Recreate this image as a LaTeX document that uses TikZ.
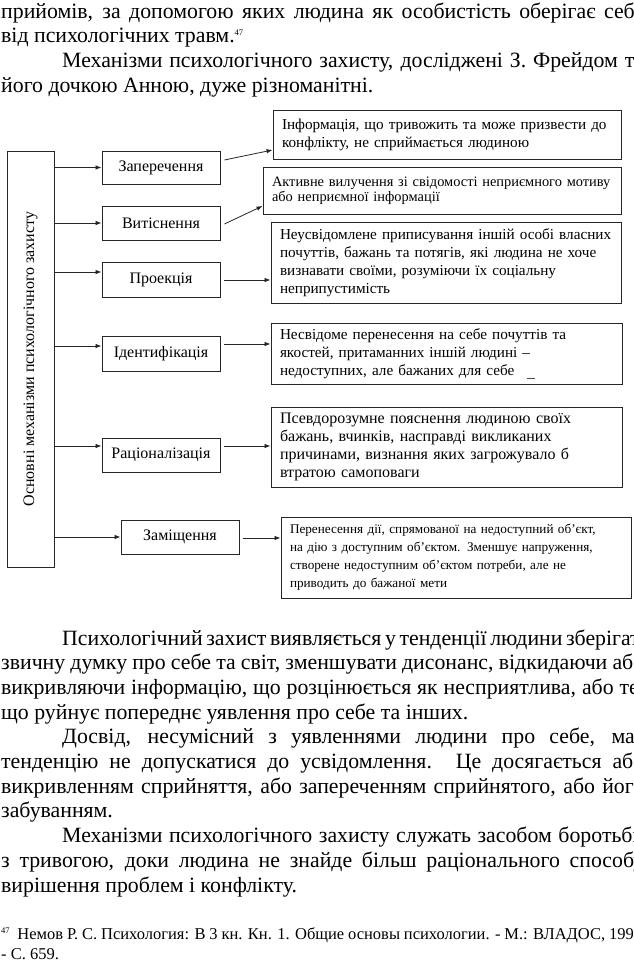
\documentclass[tikz,border=0pt]{standalone}
\usepackage{fontspec}
\setmainfont{Liberation Serif}
\usetikzlibrary{arrows.meta,calc}
\newcommand{\fnmark}[2]{\raisebox{#1}{\fontsize{8.5}{9}\selectfont #2}}
\begin{document}
\begin{tikzpicture}[x=1pt,y=-1pt,
  body/.style={anchor=base west, inner sep=0pt, font=\fontsize{21.8}{24.7}\selectfont},
  foot/.style={anchor=base west, inner sep=0pt, font=\fontsize{16.5}{19}\selectfont},
  frame/.style={draw=black!85, line width=0.9pt},
  mbox/.style={frame, minimum width=118pt, inner sep=0pt, font=\fontsize{16}{18}\selectfont},
  rbox/.style={frame, inner ysep=0pt, inner xsep=9pt, align=left, font=\fontsize{15.2}{18}\selectfont},
  arr/.style={draw=black!85, line width=0.8pt, -{Latex[length=6pt,width=4.5pt]}}]
\useasboundingbox (0,0) rectangle (634,977);
\fill[white] (0,0) rectangle (634,977);
\begin{scope}
\clip (0,0) rectangle (634,977);
% upper text
\node[body] (t1) at (1,18) {\makebox[643pt][s]{прийомів, за допомогою яких людина як особистість оберігає себе}};
\node[body] (t2) at (1,42.7) {від психологічних травм.\fnmark{7.5pt}{47}};
\node[body] (t3) at (62,67.4) {\makebox[582pt][s]{Механізми психологічного захисту, досліджені З. Фрейдом та}};
\node[body] (t4) at (1,92.1) {його дочкою Анною, дуже різноманітні.};

% diagram
\node[frame, minimum width=47pt, minimum height=416pt, inner sep=0pt] (L) at (30.5,359) {};
\node[rotate=90, inner sep=0pt, font=\fontsize{16}{18}\selectfont] (Lt) at (L.center) {Основні механізми психологічного захисту};

\node[mbox, minimum height=33pt] (m1) at (161,167.5) {Заперечення};
\node[mbox, minimum height=34pt] (m2) at (161,223) {Витіснення};
\node[mbox, minimum height=35pt] (m3) at (161,279.5) {Проекція};
\node[mbox, minimum height=35pt] (m4) at (161,353.5) {Ідентифікація};
\node[mbox, minimum height=34pt] (m5) at (161,455) {Раціоналізація};
\node[mbox, minimum height=34pt] (m6) at (180,537) {Заміщення};

\node[rbox, text width=330pt, minimum height=49pt] (r1) at (447,134.5)
  {Інформація, що тривожить та може призвести до\\конфлікту, не сприймається людиною};
\node[rbox, text width=340pt, minimum height=47pt, font=\fontsize{14.4}{15}\selectfont] (r2) at (442,190.5)
  {Активне вилучення зі свідомості неприємного мотиву\\або неприємної інформації};
\node[rbox, text width=332pt, minimum height=81pt] (r3) at (446,262.5)
  {Неусвідомлене приписування іншій особі власних\\почуттів, бажань та потягів, які людина не хоче\\визнавати своїми, розуміючи їх соціальну\\неприпустимість};
\node[rbox, text width=333pt, minimum height=61pt] (r4) at (446.5,353.5)
  {Несвідоме перенесення на себе почуттів та\\якостей, притаманних іншій людині –\\недоступних, але бажаних для себе};
\node[rbox, text width=333pt, minimum height=80pt, font=\fontsize{16}{18}\selectfont] (r5) at (446.5,447)
  {Псевдорозумне пояснення людиною своїх\\бажань, вчинків, насправді викликаних\\причинами, визнання яких загрожувало б\\втратою самоповаги};
\node[rbox, text width=332pt, minimum height=81pt, font=\fontsize{13.2}{18}\selectfont] (r6) at (456,557.5)
  {Перенесення дії, спрямованої на недоступний об'єкт,\\на дію з доступним об'єктом. Зменшує напруження,\\створене недоступним об'єктом потреби, але не\\приводить до бажаної мети};
\coordinate (mk1) at ($(r4.south)+(80,-6)$);
\coordinate (mk2) at ($(mk1)+(8,0)$);
\draw[line width=0.8pt, black!70] (mk1) -- (mk2);

% arrows from left box
\coordinate (m3in) at ($(m3.west)+(0,-7.5)$);
\coordinate (m4in) at ($(m4.west)+(0,-7.5)$);
\coordinate (m5in) at ($(m5.west)+(0,-9)$);
\draw[arr] (L.east |- m1.west) -- (m1.west);
\draw[arr] (L.east |- m2.west) -- (m2.west);
\draw[arr] (L.east |- m3in) -- (m3in);
\draw[arr] (L.east |- m4in) -- (m4in);
\draw[arr] (L.east |- m5in) -- (m5in);
\draw[arr] (L.east |- m6.west) -- (m6.west);

% arrows to descriptions
\coordinate (a1s) at ($(m1.east)+(4,-7.5)$);
\coordinate (a1e) at ($(r1.west)+(0,15.5)$);
\coordinate (a2s) at ($(m2.east)+(4,1)$);
\coordinate (a2e) at ($(r2.west)+(0,15.5)$);
\coordinate (a3s) at ($(m3.east)+(4,0.5)$);
\coordinate (a4s) at ($(m4.east)+(4,-9.5)$);
\coordinate (a5s) at ($(m5.east)+(4,-9)$);
\coordinate (a6s) at ($(m6.east)+(4,1)$);
\draw[arr] (a1s) -- (a1e);
\draw[arr] (a2s) -- (a2e);
\draw[arr] (a3s) -- (r3.west |- a3s);
\draw[arr] (a4s) -- (r4.west |- a4s);
\draw[arr] (a5s) -- (r5.west |- a5s);
\draw[arr] (a6s) -- (r6.west |- a6s);

% lower text
\node[body] (b1) at (62,645) {\makebox[582pt][s]{Психологічний захист виявляється у тенденції людини зберігати}};
\node[body] (b2) at (1,669.7) {\makebox[643pt][s]{звичну думку про себе та світ, зменшувати дисонанс, відкидаючи або}};
\node[body] (b3) at (1,694.4) {\makebox[643pt][s]{викривляючи інформацію, що розцінюється як несприятлива, або те,}};
\node[body] (b4) at (1,719.1) {що руйнує попереднє уявлення про себе та інших.};
\node[body] (b5) at (62,743.8) {\makebox[582pt][s]{Досвід, несумісний з уявленнями людини про себе, має}};
\node[body] (b6) at (1,768.5) {\makebox[643pt][s]{тенденцію не допускатися до усвідомлення. Це досягається або}};
\node[body] (b7) at (1,793.2) {\makebox[643pt][s]{викривленням сприйняття, або запереченням сприйнятого, або його}};
\node[body] (b8) at (1,817.9) {забуванням.};
\node[body] (b9) at (62,842.6) {\makebox[582pt][s]{Механізми психологічного захисту служать засобом боротьби}};
\node[body] (b10) at (1,867.3) {\makebox[643pt][s]{з тривогою, доки людина не знайде більш раціонального способу}};
\node[body] (b11) at (1,892) {вирішення проблем і конфлікту.};

% footnote
\node[foot] (f1) at (1,939) {\makebox[645pt][s]{\fnmark{6pt}{47}\ \ Немов Р. С. Психология: В 3 кн. Кн. 1. Общие основы психологии. - М.: ВЛАДОС, 1997.}};
\node[foot] (f2) at (1,959) {- С. 659.};
\end{scope}
\end{tikzpicture}
\end{document}
